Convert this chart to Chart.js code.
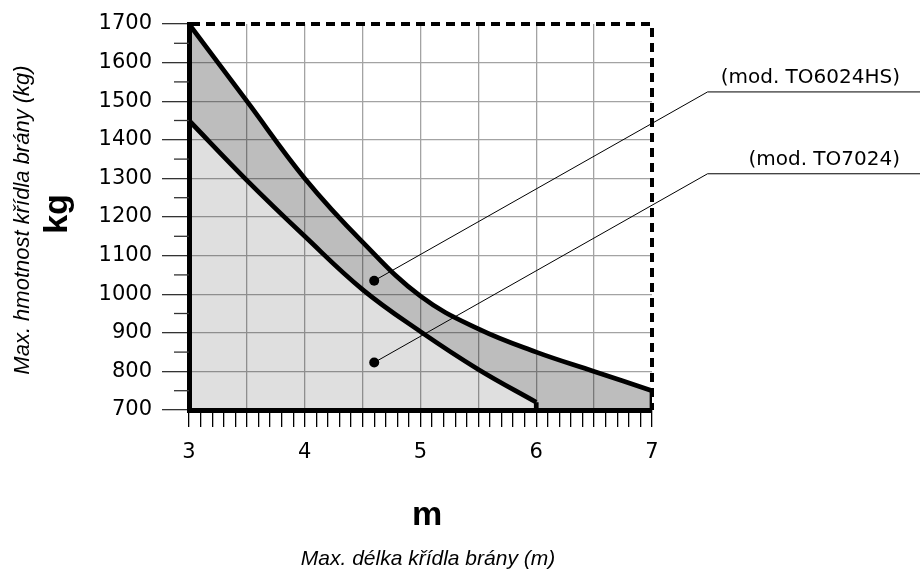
<!DOCTYPE html>
<html lang="cs">
<head>
  <meta charset="UTF-8">
  <title>Max. hmotnost křídla brány</title>
  <script src="https://cdn.jsdelivr.net/npm/chart.js"></script>
  <style>
    html, body {
      margin: 0;
      padding: 0;
      background: #fff;
    }

    .chart-wrap {
      position: relative;
      width: 920px;
      height: 571px;
    }
  </style>
</head>
<body>

  <div class="chart-wrap">
    <canvas id="gateChart"></canvas>
  </div>

  <script>
    // leaf length (m) -> max leaf weight (kg)
    const lengthTO6024HS = [3, 3.5, 4, 4.5, 5, 5.5, 6, 6.5, 7];
    const weightTO6024HS = [1700, 1500, 1300, 1135, 995, 910, 850, 800, 750];
    const lengthTO7024 = [3, 3.5, 4, 4.5, 5, 5.5, 6];
    const weightTO7024 = [1450, 1295, 1150, 1012, 903, 805, 720];

    const minWeight = 700;
    const maxWeight = 1700;
    const minLength = 3;
    const maxLength = 7;
    const yMinorTicks = [750, 850, 950, 1050, 1150, 1250, 1350, 1450, 1550, 1650];

    // callouts: dot on the band, elbow of the leader line
    const calloutLabels = ['(mod. TO6024HS)', '(mod. TO7024)'];
    const calloutDotLength = [4.6, 4.6];
    const calloutDotWeight = [1035, 823];
    const calloutElbowLength = [7.48, 7.48];
    const calloutElbowWeight = [1524, 1312];

    const gridGrey = '#a3a3a3';
    const clear = 'rgba(0,0,0,0)';
    const tickFont = { family: 'DejaVu Sans', size: 21 };

    const toPoints = (xs, ys) => xs.map((x, i) => ({ x, y: ys[i] }));
    const last = arr => arr[arr.length - 1];

    // vertical drop from the end of each curve down to the x axis
    const dropTO6024HS = [
      { x: last(lengthTO6024HS), y: last(weightTO6024HS) },
      { x: last(lengthTO6024HS), y: minWeight }
    ];
    const dropTO7024 = [
      { x: last(lengthTO7024), y: last(weightTO7024) },
      { x: last(lengthTO7024), y: minWeight }
    ];
    // lower edge of the dark band (TO7024 curve, then along the axis)
    const bandFloor = toPoints(lengthTO7024, weightTO7024).concat([
      { x: last(lengthTO7024), y: minWeight },
      { x: maxLength, y: minWeight }
    ]);

    const curveStyle = {
      showLine: true,
      borderColor: '#000',
      borderWidth: 4.7,
      borderJoinStyle: 'miter',
      pointRadius: 0
    };

    const framePlugin = {
      id: 'frame',
      afterDatasetsDraw(chart) {
        const { ctx, chartArea: a, scales: { x, y } } = chart;
        ctx.save();

        // short ticks between the labelled kg values
        ctx.strokeStyle = '#333';
        ctx.lineWidth = 1.3;
        yMinorTicks.forEach(v => {
          const py = y.getPixelForValue(v);
          ctx.beginPath();
          ctx.moveTo(a.left - 15, py);
          ctx.lineTo(a.left, py);
          ctx.stroke();
        });

        // dashed top / right border
        ctx.strokeStyle = '#000';
        ctx.lineWidth = 4;
        ctx.setLineDash([9, 6]);
        ctx.beginPath();
        ctx.moveTo(x.getPixelForValue(minLength) + 2, y.getPixelForValue(maxWeight));
        ctx.lineTo(x.getPixelForValue(maxLength), y.getPixelForValue(maxWeight));
        ctx.lineTo(x.getPixelForValue(maxLength), y.getPixelForValue(minWeight));
        ctx.stroke();
        ctx.setLineDash([]);

        // callouts
        ctx.lineWidth = 1;
        ctx.fillStyle = '#000';
        ctx.font = '20px "DejaVu Sans"';
        ctx.textAlign = 'right';
        ctx.textBaseline = 'alphabetic';
        calloutLabels.forEach((label, i) => {
          const dx = x.getPixelForValue(calloutDotLength[i]);
          const dy = y.getPixelForValue(calloutDotWeight[i]);
          const ex = x.getPixelForValue(calloutElbowLength[i]);
          const ey = y.getPixelForValue(calloutElbowWeight[i]);
          ctx.beginPath();
          ctx.moveTo(dx, dy);
          ctx.lineTo(ex, ey);
          ctx.lineTo(chart.width, ey);
          ctx.stroke();
          ctx.beginPath();
          ctx.arc(dx, dy, 5, 0, Math.PI * 2);
          ctx.fill();
          ctx.fillText(label, chart.width - 20, ey - 9);
        });

        // axis titles
        ctx.textAlign = 'center';
        ctx.font = 'italic 21px "Liberation Sans"';
        ctx.fillText('Max. délka křídla brány (m)', 428, 565);
        ctx.font = 'bold 34px "Liberation Sans"';
        ctx.fillText('m', 427, 525);

        ctx.save();
        ctx.translate(29, 220);
        ctx.rotate(-Math.PI / 2);
        ctx.font = 'italic 22px "Liberation Sans"';
        ctx.fillText('Max. hmotnost křídla brány (kg)', 0, 0);
        ctx.restore();

        ctx.save();
        ctx.translate(67, 214);
        ctx.rotate(-Math.PI / 2);
        ctx.font = 'bold 34px "Liberation Sans"';
        ctx.fillText('kg', 0, 0);
        ctx.restore();

        ctx.restore();
      }
    };

    new Chart(document.getElementById('gateChart'), {
      type: 'scatter',
      data: {
        datasets: [
          {
            label: 'TO6024HS',
            data: toPoints(lengthTO6024HS, weightTO6024HS),
            ...curveStyle,
            tension: 0.4,
            fill: { target: 2 },
            backgroundColor: 'rgba(0,0,0,0.26)'
          },
          {
            label: 'TO7024',
            data: toPoints(lengthTO7024, weightTO7024),
            ...curveStyle,
            tension: 0.4,
            fill: 'start',
            backgroundColor: 'rgba(0,0,0,0.125)'
          },
          {
            label: 'band floor',
            data: bandFloor,
            showLine: true,
            borderWidth: 0,
            borderColor: clear,
            pointRadius: 0,
            tension: 0,
            fill: false
          },
          {
            label: 'TO6024HS end',
            data: dropTO6024HS,
            ...curveStyle,
            tension: 0,
            fill: false
          },
          {
            label: 'TO7024 end',
            data: dropTO7024,
            ...curveStyle,
            tension: 0,
            fill: false
          }
        ]
      },
      options: {
        responsive: true,
        maintainAspectRatio: false,
        animation: false,
        layout: { padding: { top: 24, right: 268, bottom: 0, left: 0 } },
        plugins: {
          legend: { display: false },
          tooltip: { enabled: false }
        },
        scales: {
          x: {
            type: 'linear',
            min: minLength,
            max: maxLength,
            afterFit: s => { s.height = 161; },
            border: { display: true, color: '#000', width: 5 },
            grid: {
              color: c => {
                const v = Math.round(c.tick.value * 10) / 10;
                return (v * 2) % 1 === 0 && v > minLength && v < maxLength ? gridGrey : clear;
              },
              lineWidth: 1.3,
              tickColor: '#000',
              tickLength: 17,
              tickWidth: 1.3
            },
            ticks: {
              stepSize: 0.1,
              autoSkip: false,
              maxRotation: 0,
              padding: 13,
              color: '#000',
              font: tickFont,
              callback: v => {
                const r = Math.round(v * 10) / 10;
                return r % 1 === 0 ? String(r) : '';
              }
            }
          },
          y: {
            min: minWeight,
            max: maxWeight,
            afterFit: s => { s.width = 189; },
            border: { display: true, color: '#000', width: 5 },
            grid: {
              color: c => (c.tick.value > minWeight && c.tick.value < maxWeight ? gridGrey : clear),
              lineWidth: 1.3,
              tickColor: '#333',
              tickLength: 27,
              tickWidth: 1.3
            },
            ticks: {
              stepSize: 100,
              padding: 10,
              color: '#000',
              font: tickFont,
              callback: v => String(v)
            }
          }
        }
      },
      plugins: [framePlugin]
    });
  </script>

</body>
</html>
